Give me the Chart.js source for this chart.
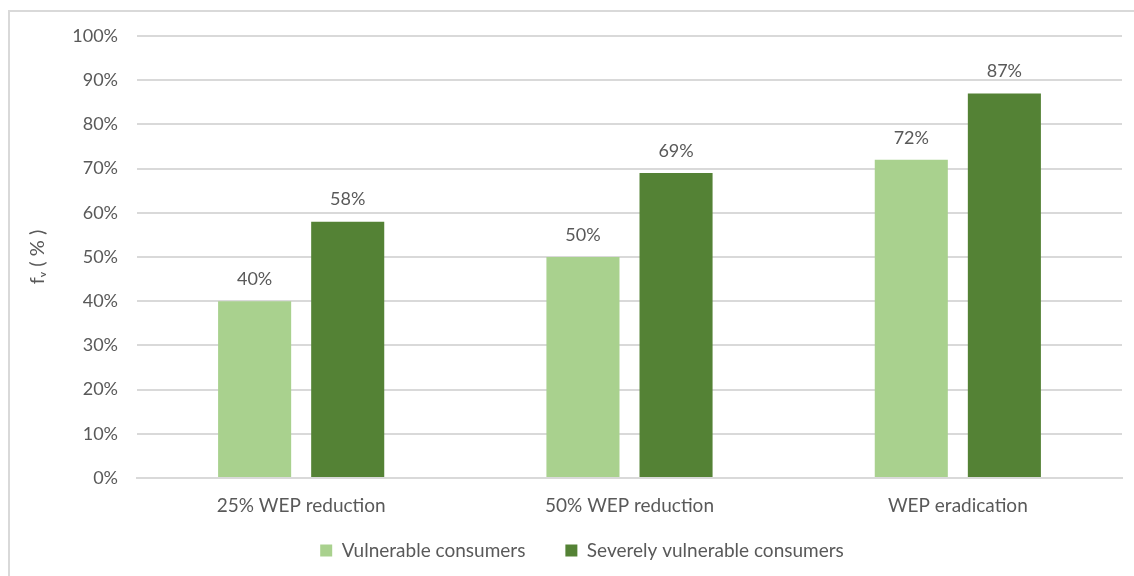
<!DOCTYPE html>
<html>
<head>
<meta charset="utf-8">
<script src="https://cdn.jsdelivr.net/npm/chart.js@4/dist/chart.umd.min.js"></script>
<style>
  html, body { margin: 0; padding: 0; background: #fff; overflow: hidden; }
  #frame { position: absolute; left: 8px; top: 10px; width: 1140px; height: 580px; border: 2px solid #d9d9d9; box-sizing: border-box; }
  #wrap { position: absolute; left: 0; top: 0; width: 1134px; height: 576px; }
</style>
</head>
<body>
<div id="frame"></div>
<div id="wrap"><canvas id="fvChart"></canvas></div>
<script>
const categories = ["25% WEP reduction", "50% WEP reduction", "WEP eradication"];
const vulnerable = [40, 50, 72];
const severelyVulnerable = [58, 69, 87];
const yTicks = [0, 10, 20, 30, 40, 50, 60, 70, 80, 90, 100];

const textGrey = "#595959";
const fontFamily = "Lato, 'Liberation Sans', sans-serif";

// draws "40%" etc above each bar
const barLabels = {
  id: "barLabels",
  afterDatasetsDraw(chart) {
    const ctx = chart.ctx;
    ctx.save();
    ctx.fillStyle = textGrey;
    ctx.font = "18px " + fontFamily;
    ctx.textAlign = "center";
    ctx.textBaseline = "bottom";
    chart.data.datasets.forEach((ds, i) => {
      chart.getDatasetMeta(i).data.forEach((bar, j) => {
        ctx.fillText(ds.data[j] + "%", bar.x, bar.y - 13);
      });
    });
    ctx.restore();
  }
};

// legend padding 40 gives the wide gap between items, but it also makes the box tall,
// so shrink the box for layout and move it up before drawing
const legendSqueeze = {
  id: "legendSqueeze",
  afterInit(chart) {
    const lg = chart.legend;
    const fit = lg.fit;
    lg.fit = function () { fit.call(this); this.height = 38; };
  },
  afterLayout(chart) {
    chart.legend.top = 501;
    chart.legend.left += 8;
    chart.legend.right += 8;
  }
};

const config = {
  type: "bar",
  data: {
    labels: categories,
    datasets: [
      {
        label: "Vulnerable consumers",
        data: vulnerable,
        backgroundColor: "#a9d18e",
        categoryPercentage: 0.567,
        barPercentage: 0.785
      },
      {
        label: "Severely vulnerable consumers",
        data: severelyVulnerable,
        backgroundColor: "#548235",
        categoryPercentage: 0.567,
        barPercentage: 0.785
      }
    ]
  },
  options: {
    responsive: true,
    maintainAspectRatio: false,
    animation: false,
    layout: { padding: { top: 36, right: 12, left: 26, bottom: 7 } },
    plugins: {
      tooltip: { enabled: false },
      legend: {
        position: "bottom",
        labels: {
          color: textGrey,
          font: { family: fontFamily, size: 19 },
          boxWidth: 12,
          boxHeight: 12,
          padding: 40
        }
      }
    },
    scales: {
      x: {
        afterFit(scale) { scale.height = 53; },
        grid: { display: false, drawTicks: false },
        border: { color: "#d9d9d9", width: 2 },
        ticks: { color: textGrey, font: { family: fontFamily, size: 19 }, padding: 16 }
      },
      y: {
        min: 0,
        max: 100,
        afterBuildTicks(scale) {
          scale.ticks = yTicks.map(v => ({ value: v }));
        },
        afterFit(scale) { scale.width = 111; },
        grid: { color: "#d9d9d9", lineWidth: 2, drawTicks: false },
        border: { display: false },
        ticks: {
          color: textGrey,
          font: { family: fontFamily, size: 18 },
          padding: 19,
          callback: v => v + "%"
        },
        title: {
          display: true,
          text: "fᵥ ( % )",
          color: textGrey,
          font: { family: fontFamily, size: 20 },
          padding: 0
        }
      }
    }
  },
  plugins: [barLabels, legendSqueeze]
};

new Chart(document.getElementById("fvChart"), config);
</script>
</body>
</html>
